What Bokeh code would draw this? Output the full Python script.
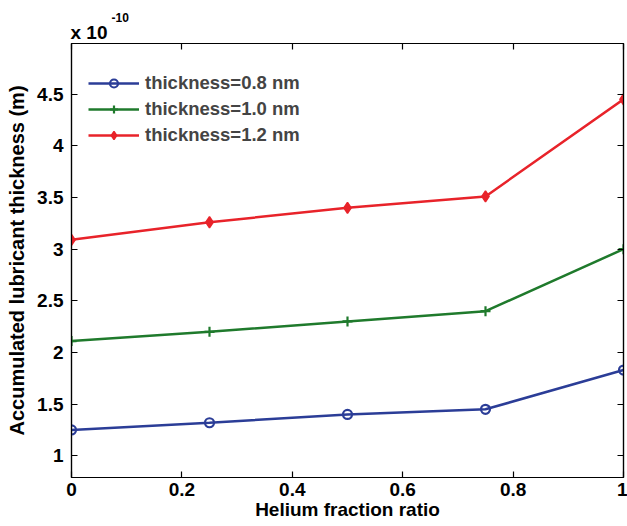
from bokeh.plotting import figure
from bokeh.models import (ColumnDataSource, Range1d, LinearAxis, FixedTicker, Legend,
                          LegendItem, Title, CustomJSTickFormatter)
from bokeh.embed import file_html
from bokeh.resources import INLINE

x_vals = [0, 0.25, 0.5, 0.75, 1.0]
t08 = [1.25, 1.32, 1.40, 1.45, 1.83]
t10 = [2.11, 2.20, 2.30, 2.40, 3.00]
t12 = [3.09, 3.26, 3.40, 3.51, 4.45]
x_ticks = [0, 0.2, 0.4, 0.6, 0.8, 1.0]
y_ticks = [1, 1.5, 2, 2.5, 3, 3.5, 4, 4.5]
labels = ["thickness=0.8 nm", "thickness=1.0 nm", "thickness=1.2 nm"]

FONT = "Liberation Sans"
BLUE = "#2b3d97"
GREEN = "#1f7a2c"
RED = "#e8232a"

p = figure(width=627, height=526, output_backend="svg", toolbar_location=None,
           x_range=Range1d(0, 1), y_range=Range1d(0.79, 4.99),
           min_border_left=71, min_border_right=4, min_border_top=43, min_border_bottom=49)
p.xgrid.visible = False
p.ygrid.visible = False
p.outline_line_color = "black"
p.outline_line_width = 1.2
p.background_fill_color = "white"
p.border_fill_color = "white"

def style_axis(ax):
    ax.major_tick_in = 6
    ax.major_tick_out = 0
    ax.minor_tick_in = 0
    ax.minor_tick_out = 0
    ax.axis_line_color = "black"
    ax.axis_line_width = 1.2
    ax.major_tick_line_width = 1.2
    ax.major_label_text_font = FONT
    ax.major_label_text_font_style = "bold"
    ax.major_label_text_font_size = "19px"
    ax.major_label_text_color = "black"
    ax.axis_label_text_font = FONT
    ax.axis_label_text_font_style = "bold"
    ax.axis_label_text_font_size = "19px"
    ax.axis_label_text_color = "black"

p.xaxis.ticker = FixedTicker(ticks=x_ticks)
p.yaxis.ticker = FixedTicker(ticks=y_ticks)
p.xaxis.major_label_overrides = {0: "0", 1.0: "1"}
style_axis(p.xaxis[0])
style_axis(p.yaxis[0])
p.yaxis.axis_label_text_font_size = "20px"
p.xaxis.axis_label = "Helium fraction ratio"
p.yaxis.axis_label = "Accumulated lubricant thickness (m)"
p.xaxis.major_label_standoff = 5
p.xaxis.axis_label_standoff = 0
p.yaxis.major_label_standoff = 8
p.yaxis.axis_label_standoff = 6
try:
    p.yaxis[0].axis_label_align = "right"
except Exception:
    pass

top = LinearAxis(ticker=FixedTicker(ticks=x_ticks), formatter=CustomJSTickFormatter(code="return '';"))
style_axis(top)
top.major_label_standoff = 0
right = LinearAxis(ticker=FixedTicker(ticks=y_ticks), formatter=CustomJSTickFormatter(code="return '';"))
style_axis(right)
right.major_label_standoff = 0
p.add_layout(top, "above")
p.add_layout(right, "right")

t_main = Title(text="x 10", align="left", offset=-1, text_font=FONT, text_font_style="bold",
               text_font_size="19px", text_color="black", standoff=2)
t_sup = Title(text="-10", align="left", offset=40, text_font=FONT, text_font_style="bold",
              text_font_size="12px", text_color="black", standoff=-6)
p.add_layout(t_main, "above")
p.add_layout(t_sup, "above")

src = ColumnDataSource(dict(x=x_vals, a=t08, b=t10, c=t12))

l1 = p.line("x", "a", source=src, line_color=BLUE, line_width=2.5)
m1 = p.scatter("x", "a", source=src, marker="circle", size=9, fill_color=None,
               line_color=BLUE, line_width=2.2)
l2 = p.line("x", "b", source=src, line_color=GREEN, line_width=2.5)
m2 = p.scatter("x", "b", source=src, marker="cross", size=10, line_color=GREEN, line_width=2.2)
l3 = p.line("x", "c", source=src, line_color=RED, line_width=2.5)
m3 = p.scatter("x", "c", source=src, marker="diamond", size=11, fill_color=RED,
               line_color=RED, line_width=1.5)

legend = Legend(items=[LegendItem(label=labels[0], renderers=[l1, m1]),
                       LegendItem(label=labels[1], renderers=[l2, m2]),
                       LegendItem(label=labels[2], renderers=[l3, m3])],
                location=(17, 331))
legend.background_fill_alpha = 0
legend.border_line_alpha = 0
legend.label_text_font = FONT
legend.label_text_font_style = "bold"
legend.label_text_font_size = "18.5px"
legend.glyph_width = 51
legend.glyph_height = 20
legend.label_height = 20
legend.spacing = 4
legend.margin = 0
legend.padding = 0
legend.label_standoff = 6
p.add_layout(legend)

open("out.html", "w").write(file_html(p, INLINE))
